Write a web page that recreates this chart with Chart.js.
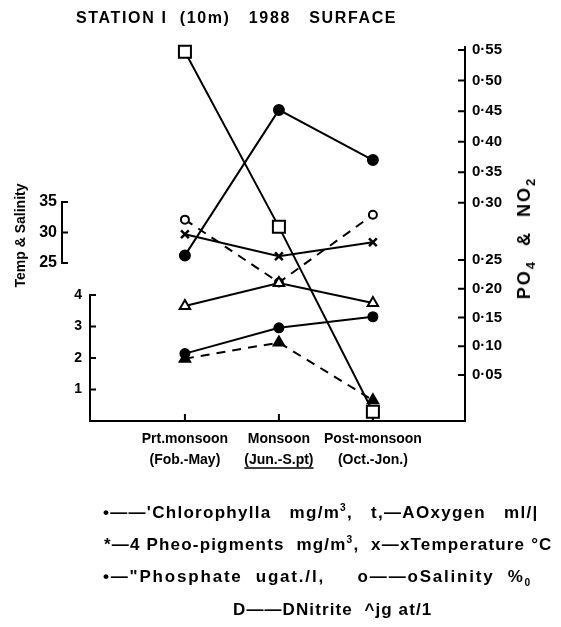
<!DOCTYPE html>
<html>
<head>
<meta charset="utf-8">
<title>Station I (10m) 1988 surface</title>
<script src="https://cdn.jsdelivr.net/npm/chart.js@4.4.1/dist/chart.umd.min.js"></script>
<style>
  body { margin: 0; background: #fff; }
  #wrap { position: relative; width: 561px; height: 627px; overflow: hidden;
          font-family: "Liberation Sans", Arial, sans-serif; font-weight: bold; color: #000; }
  #chart { position: absolute; left: 0; top: 0; }
  .txt { position: absolute; white-space: pre; line-height: 20px; }
  .leg { font-size: 17px; }
  sup, sub { font-size: 60%; line-height: 0; }
  #rtitle { left: 524px; top: 238px; font-size: 18px; transform: translate(-50%, -50%) rotate(-90deg); }
  #rtitle sub { font-size: 72%; }
</style>
</head>
<body>
<div id="wrap">
  <canvas id="chart" width="561" height="627"></canvas>
  <div class="txt fit" style="left:76px; top:8px; font-size:16px" data-w="321">STATION I  (10m)   1988   SURFACE</div>
  <div class="txt fit" id="rtitle" data-w="122">PO<sub>4</sub>  &amp;  NO<sub>2</sub></div>
  <div class="txt leg fit" style="left:103px; top:503px" data-w="435">•——'Chlorophylla   mg/m<sup>3</sup>,   t,—AOxygen   ml/|</div>
  <div class="txt leg fit" style="left:104px; top:535px" data-w="449">*—4 Pheo-pigments  mg/m<sup>3</sup>,  x—xTemperature °C</div>
  <div class="txt leg fit" style="left:103px; top:567px" data-w="429">•—"Phosphate  ugat./l,     o——oSalinity  %<sub>0</sub></div>
  <div class="txt leg fit" style="left:233px; top:600px" data-w="199">D——DNitrite  ^jg at/1</div>
</div>
<script>
const seasons = ['Prt.monsoon', 'Monsoon', 'Post-monsoon'];
const seasonMonths = ['(Fob.-May)', '(Jun.-S.pt)', '(Oct.-Jon.)'];

// left inner axis (0-4)
const chlorophyll = [2.14, 2.96, 3.31];
const pheoPigments = [1.98, 2.49, 0.66];
const oxygen = [3.65, 4.38, 3.75];
// Temp & Salinity axis
const temperature = [29.7, 26.1, 28.4];
const salinity = [32.1, 21.8, 32.9];
// PO4 & NO2 axis
const phosphate = [0.254, 0.452, 0.37];
const nitrite = [0.547, 0.279, 0.01];

const tempTicks = [25, 30, 35];
const chemTicks = [1, 2, 3, 4];
const nutrientTicks = [0.05, 0.10, 0.15, 0.20, 0.25, 0.30, 0.35, 0.40, 0.45, 0.50, 0.55];

// the hand drawn PO4/NO2 axis is not even: value -> fraction of plot height
const nutrientAxisBreaks = [[0, 0], [0.05, 0.124], [0.25, 0.434], [0.30, 0.588], [0.55, 1]];

const FONT = '"Liberation Sans", Arial, sans-serif';

class BrokenScale extends Chart.LinearScale {
  static id = 'broken';
  _brokenDecimal(v) {
    const k = nutrientAxisBreaks;
    let i = 1;
    while (i < k.length - 1 && v > k[i][0]) i++;
    const [v0, f0] = k[i - 1], [v1, f1] = k[i];
    return f0 + (v - v0) * (f1 - f0) / (v1 - v0);
  }
  getPixelForValue(v) {
    return v === null ? NaN : this.getPixelForDecimal(this._brokenDecimal(v));
  }
  getValueForPixel(p) {
    const d = this.getDecimalForPixel(p), k = nutrientAxisBreaks;
    let i = 1;
    while (i < k.length - 1 && d > k[i][1]) i++;
    const [v0, f0] = k[i - 1], [v1, f1] = k[i];
    return v0 + (d - f0) * (v1 - v0) / (f1 - f0);
  }
}
Chart.register(BrokenScale);

function pts(values) {
  return values.map((y, i) => ({ x: i, y: y }));
}

const axisMarks = {
  id: 'axisMarks',
  beforeDatasetsDraw(chart) {
    const { ctx, chartArea: a, scales } = chart;
    const seg = (x1, y1, x2, y2) => { ctx.moveTo(x1, y1); ctx.lineTo(x2, y2); };
    ctx.save();
    ctx.strokeStyle = '#000';
    ctx.lineWidth = 2;
    ctx.lineCap = 'square';
    ctx.beginPath();
    // Temp & Salinity bracket
    const t = scales.yTemp, tx = t.right;
    seg(tx, t.getPixelForValue(tempTicks[tempTicks.length - 1]), tx, t.getPixelForValue(tempTicks[0]));
    tempTicks.forEach(v => { const y = t.getPixelForValue(v); seg(tx, y, tx + 5, y); });
    // 0-4 axis
    const c = scales.yChem;
    seg(a.left, c.getPixelForValue(chemTicks[chemTicks.length - 1]), a.left, a.bottom);
    chemTicks.forEach(v => { const y = c.getPixelForValue(v); seg(a.left, y, a.left + 5, y); });
    // PO4 & NO2 axis
    const n = scales.yNut;
    seg(a.right, a.top - 3, a.right, a.bottom);
    nutrientTicks.forEach(v => { const y = n.getPixelForValue(v); seg(a.right - 6, y, a.right, y); });
    // season axis
    seg(a.left, a.bottom, a.right, a.bottom);
    seasons.forEach((_, i) => { const x = scales.x.getPixelForValue(i); seg(x, a.bottom, x, a.bottom - 6); });
    ctx.stroke();
    // underline under the monsoon months
    ctx.font = 'bold 14px ' + FONT;
    const w = ctx.measureText(seasonMonths[1]).width;
    const ux = scales.x.getPixelForValue(1), uy = scales.x.top + 8 + 21 * 2 - 3;
    ctx.lineWidth = 1.5;
    ctx.lineCap = 'butt';
    ctx.beginPath();
    seg(ux - w / 2, uy, ux + w / 2, uy);
    ctx.stroke();
    ctx.restore();
  }
};

const base = { borderColor: '#000', pointBorderColor: '#000', borderWidth: 2, pointBorderWidth: 2, clip: false, tension: 0 };
const tickFont = size => ({ family: FONT, size: size, weight: 'bold' });
const noGrid = { display: false, drawTicks: false };

new Chart(document.getElementById('chart'), {
  type: 'line',
  data: {
    datasets: [
      { ...base, label: 'Nitrite', data: pts(nitrite), yAxisID: 'yNut',
        pointStyle: 'rect', pointRadius: 8.5, pointBackgroundColor: '#fff' },
      { ...base, label: 'Phosphate', data: pts(phosphate), yAxisID: 'yNut',
        pointStyle: 'circle', pointRadius: 5, pointBackgroundColor: '#000' },
      { ...base, label: 'Chlorophyll a', data: pts(chlorophyll), yAxisID: 'yChem',
        pointStyle: 'circle', pointRadius: 4.5, pointBackgroundColor: '#000' },
      { ...base, label: 'Pheo-pigments', data: pts(pheoPigments), yAxisID: 'yChem', borderDash: [9, 7],
        pointStyle: 'triangle', pointRadius: 6, pointBackgroundColor: '#000' },
      { ...base, label: 'Oxygen', data: pts(oxygen), yAxisID: 'yChem',
        pointStyle: 'triangle', pointRadius: 6, pointBackgroundColor: '#fff' },
      { ...base, label: 'Temperature', data: pts(temperature), yAxisID: 'yTemp',
        pointStyle: 'crossRot', pointRadius: 5.5, pointBorderWidth: 2.5 },
      { ...base, label: 'Salinity', data: pts(salinity), yAxisID: 'yTemp', borderDash: [9, 7],
        pointStyle: 'circle', pointRadius: 4, pointBackgroundColor: '#fff' }
    ]
  },
  options: {
    responsive: false,
    animation: false,
    layout: { padding: { top: 50, bottom: 146, left: 0, right: 0 } },
    plugins: { legend: { display: false }, tooltip: { enabled: false } },
    scales: {
      x: {
        type: 'linear', min: -1.01, max: 2.98,
        grid: noGrid, border: { display: false },
        afterBuildTicks: s => { s.ticks = seasons.map((_, i) => ({ value: i })); },
        afterFit: s => { s.height = 60; },
        ticks: {
          autoSkip: false, maxRotation: 0, padding: 8, color: '#000',
          font: { family: FONT, size: 14, weight: 'bold', lineHeight: 1.5 },
          callback: (v, i) => [seasons[i], seasonMonths[i]]
        }
      },
      yTemp: {
        type: 'linear', position: 'left', weight: 1, min: -0.9, max: 59.9,
        grid: noGrid, border: { display: false },
        afterBuildTicks: s => { s.ticks = tempTicks.map(v => ({ value: v })); },
        afterFit: s => { s.width = 62; },
        ticks: { padding: 5, color: '#000', font: tickFont(16) },
        title: { display: true, text: 'Temp & Salinity', color: '#000',
                 padding: { top: 13, bottom: 0 }, font: tickFont(14) }
      },
      yChem: {
        type: 'linear', position: 'left', weight: 0, min: 0, max: 11.78,
        grid: noGrid, border: { display: false },
        afterBuildTicks: s => { s.ticks = chemTicks.map(v => ({ value: v })); },
        afterFit: s => { s.width = 28; },
        ticks: { padding: 8, color: '#000', font: tickFont(14) }
      },
      yNut: {
        type: 'broken', position: 'right', min: 0, max: 0.55,
        grid: noGrid, border: { display: false },
        afterBuildTicks: s => { s.ticks = nutrientTicks.map(v => ({ value: v })); },
        afterFit: s => { s.width = 96; },
        ticks: { padding: 7, color: '#000', font: tickFont(15),
                 callback: v => v.toFixed(2).replace('.', '·') }
      }
    }
  },
  plugins: [axisMarks]
});

// stretch the free texts to the widths they take in the figure
document.querySelectorAll('.fit').forEach(el => {
  const target = +el.dataset.w;
  const n = el.textContent.length;
  const w = el.offsetWidth;
  el.style.letterSpacing = ((target - w) / n).toFixed(2) + 'px';
});
</script>
</body>
</html>
